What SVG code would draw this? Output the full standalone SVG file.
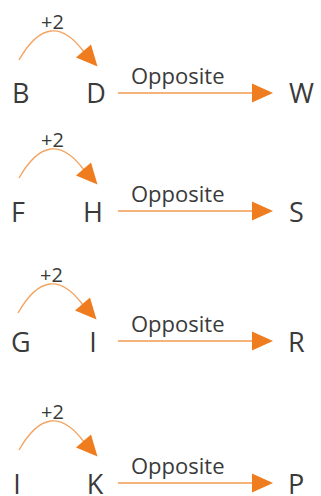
<svg xmlns="http://www.w3.org/2000/svg" width="321" height="496" viewBox="0 0 321 496">
<style>
.t{font-family:"Open Sans","Noto Sans",sans-serif;fill:#3a3a3a}
.L{font-size:27px}
.op{font-size:22px}
.p2{font-size:20px}
.arc{fill:none;stroke:#F4A462;stroke-width:1.4}
.ln{fill:none;stroke:#F29A50;stroke-width:1.6}
.hd{fill:#EF7D1F}
</style>
<defs>
<g id="top">
<path class="arc" d="M19,60 Q50,6 84,52"/>
<polygon class="hd" points="76,57.5 91,44.5 97.5,66.5"/>
<text class="t p2" x="41" y="28.5">+2</text>
</g>
<g id="bot">
<line class="ln" x1="118" y1="93" x2="254" y2="93"/>
<polygon class="hd" points="252,83.5 252,102.5 273,93"/>
<text class="t op" x="131" y="84">Opposite</text>
</g>
</defs>
<g id="connectors">
<use href="#top"/>
<use href="#bot"/>
<use href="#top" transform="translate(0,118)"/>
<use href="#bot" transform="translate(0,118)"/>
<use href="#top" transform="translate(-1,253)"/>
<use href="#bot" transform="translate(0,248)"/>
<use href="#top" transform="translate(0,390)"/>
<use href="#bot" transform="translate(0,390)"/>
</g>
<g id="row1">
<g id="B"><text class="t L" x="12" y="103">B</text></g>
<g id="D"><text class="t L" x="96" y="103" text-anchor="middle">D</text></g>
<g id="W"><text class="t L" x="289" y="103">W</text></g>
</g>
<g id="row2">
<g id="F"><text class="t L" x="11" y="222">F</text></g>
<g id="H"><text class="t L" x="93" y="222" text-anchor="middle">H</text></g>
<g id="S"><text class="t L" x="289" y="222">S</text></g>
</g>
<g id="row3">
<g id="G"><text class="t L" x="11" y="352">G</text></g>
<g id="I1"><text class="t L" x="93" y="352" text-anchor="middle">I</text></g>
<g id="R"><text class="t L" x="288" y="352">R</text></g>
</g>
<g id="row4">
<g id="I2"><text class="t L" x="17" y="494" text-anchor="middle">I</text></g>
<g id="K"><text class="t L" x="95" y="494" text-anchor="middle">K</text></g>
<g id="P"><text class="t L" x="288" y="494">P</text></g>
</g>
</svg>
